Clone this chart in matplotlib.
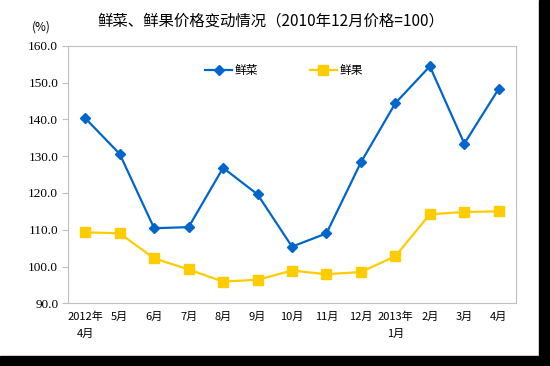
import matplotlib.pyplot as plt
import matplotlib.patches as mpatches

plt.rcParams['font.family'] = ['Noto Sans CJK SC', 'DejaVu Sans']

months = ["2012年\n4月", "5月", "6月", "7月", "8月", "9月", "10月", "11月", "12月",
          "2013年\n1月", "2月", "3月", "4月"]
vegetables = [140.3, 130.6, 110.4, 110.7, 126.8, 119.6, 105.4, 109.0, 128.3, 144.4, 154.4, 133.4, 148.3]
fruits = [109.3, 109.0, 102.2, 99.2, 95.9, 96.4, 98.9, 97.9, 98.5, 102.8, 114.2, 114.8, 115.0]
yticks = [90, 100, 110, 120, 130, 140, 150, 160]

fig = plt.figure(figsize=(5.5, 3.66), dpi=100)
ax = fig.add_axes([68 / 550, 1 - 303.3 / 366, 448 / 550, 257.6 / 366])

x = range(len(months))
ax.plot(x, vegetables, color="#0066CC", lw=1.6, marker="D", ms=5, label="鲜菜")
ax.plot(x, fruits, color="#FFCC00", lw=1.6, marker="s", ms=6.5, label="鲜果")

ax.set_xlim(-0.5, len(months) - 0.5)
ax.set_ylim(90, 160)
ax.set_yticks(yticks)
ax.set_yticklabels([f"{v:.1f}" for v in yticks], family="Liberation Serif", fontsize=9.5)
ax.set_xticks(list(x))
ax.set_xticklabels(months, fontsize=8, linespacing=1.9)
ax.tick_params(axis="y", length=4, color="#BFBFBF", pad=3)
ax.tick_params(axis="x", length=0, pad=6)
for s in ax.spines.values():
    s.set_color("#BFBFBF")

ax.legend(loc="center", bbox_to_anchor=(0.482, 0.905), ncol=2, frameon=False,
          fontsize=8.5, handlelength=2.3, columnspacing=4.4, handletextpad=0.2)

fig.text(0.492, 0.943, "鲜菜、鲜果价格变动情况（2010年12月价格=100）", ha="center", va="center", fontsize=11.1)
fig.text(41 / 550, 1 - 27 / 366, "(%)", ha="center", va="center", fontsize=8.5)

# dark border on right and bottom like the source image
fig.patches.append(mpatches.Rectangle((539 / 550, 0), 1, 1, transform=fig.transFigure, color="black", zorder=10))
fig.patches.append(mpatches.Rectangle((0, 0), 1, 10 / 366, transform=fig.transFigure, color="black", zorder=10))

fig.savefig("out.png", dpi=100)
